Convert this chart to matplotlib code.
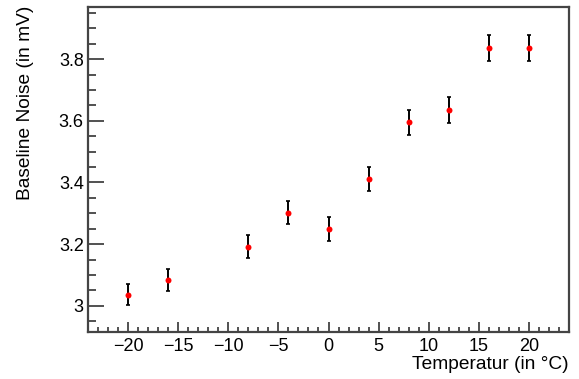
import matplotlib
matplotlib.use("Agg")
import matplotlib.pyplot as plt
from matplotlib.ticker import MultipleLocator

plt.rcParams['font.family'] = ['Liberation Sans', 'DejaVu Sans']

temperature = [-20, -16, -8, -4, 0, 4, 8, 12, 16, 20]
noise = [3.036, 3.084, 3.191, 3.302, 3.248, 3.411, 3.595, 3.635, 3.836, 3.836]
noise_err = [0.035, 0.035, 0.037, 0.037, 0.039, 0.039, 0.041, 0.041, 0.043, 0.043]

fig = plt.figure(figsize=(5.79, 3.79), dpi=100)
ax = fig.add_axes([88/579, 1-332/379, (569-88)/579, (332-7)/379])

ax.errorbar(temperature, noise, yerr=noise_err, fmt='none', ecolor='black',
            elinewidth=1.4, capsize=1.5, capthick=1.2, zorder=2)
ax.plot(temperature, noise, 'o', color='red', markersize=4.3, markeredgewidth=0, zorder=3)

ax.set_xlim(-24, 24)
ax.set_ylim(2.915, 3.969)
ax.xaxis.set_major_locator(MultipleLocator(5))
ax.xaxis.set_minor_locator(MultipleLocator(1))
ax.yaxis.set_major_locator(MultipleLocator(0.2))
ax.yaxis.set_minor_locator(MultipleLocator(0.05))
ax.set_yticks([3.0, 3.2, 3.4, 3.6, 3.8])
ax.set_yticklabels(['3', '3.2', '3.4', '3.6', '3.8'])
ax.set_xticks([-20, -15, -10, -5, 0, 5, 10, 15, 20])
ax.set_xticklabels(['\u221220', '\u221215', '\u221210', '\u22125', '0', '5', '10', '15', '20'])

ax.tick_params(axis='both', which='both', direction='in', top=False, right=False,
               labelsize=13, color='#333333', width=1.2)
ax.tick_params(axis='x', which='major', length=7.3, pad=4.5)
ax.tick_params(axis='x', which='minor', length=3.5)
ax.tick_params(axis='y', which='major', length=11.3, pad=3)
ax.tick_params(axis='y', which='minor', length=5.8)

for s in ax.spines.values():
    s.set_linewidth(1.6)
    s.set_color('#444444')

ax.set_xlabel('Temperatur (in \u00b0C)', fontsize=13.8, ha='right')
ax.xaxis.set_label_coords(1.0, -0.075)
ax.set_ylabel('Baseline Noise (in mV)', fontsize=13.8, ha='right')
ax.yaxis.set_label_coords(-0.112, 1.005)

fig.savefig('out.png', dpi=100)
